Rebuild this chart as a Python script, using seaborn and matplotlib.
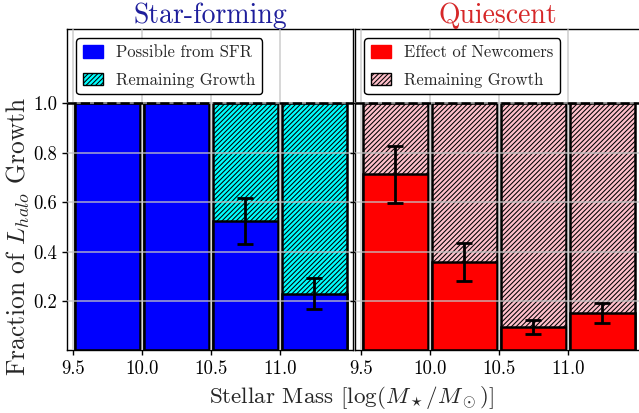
import numpy as np
import pandas as pd
import matplotlib
matplotlib.use("Agg")
import matplotlib.pyplot as plt
from matplotlib.patches import Patch
import seaborn as sns

# Stellar-mass bins (bin centres, dex)
mass_bins = [9.75, 10.25, 10.75, 11.25]
tick_positions = [9.5, 10.0, 10.5, 11.0]
tick_labels = ["9.5", "10.0", "10.5", "11.0"]
y_ticks = [0.2, 0.4, 0.6, 0.8, 1.0]

# Star-forming: fraction of L_halo growth possible from SFR
sf_frac = [1.0, 1.0, 0.525, 0.23]
sf_err = [0.0, 0.0, 0.093, 0.062]

# Quiescent: fraction of L_halo growth due to newcomers
q_frac = [0.713, 0.357, 0.095, 0.151]
q_err = [0.115, 0.078, 0.028, 0.042]

HATCH = "///////"

sns.set_theme(style="ticks")
plt.rcParams.update({
    "font.family": "serif",
    "font.serif": ["cmr10"],
    "mathtext.fontset": "cm",
    "axes.formatter.use_mathtext": True,
    "hatch.linewidth": 0.75,
    "hatch.color": "black",
    "axes.edgecolor": "black",
    "axes.linewidth": 1.0,
    "xtick.color": "black",
    "ytick.color": "black",
})

W, H = 639, 413
fig = plt.figure(figsize=(W / 100, H / 100), dpi=100)

def px_axes(x0, x1, y_top, y_bot):
    return fig.add_axes([x0 / W, 1 - y_bot / H, (x1 - x0) / W, (y_bot - y_top) / H])

ax_sf = px_axes(67, 353, 29.3, 350.4)
ax_q = px_axes(355, 641, 29.3, 350.4)

panels = [
    (ax_sf, sf_frac, sf_err, "#0000ff", "#00ffff", "Star-forming", "#1e1e9c",
     "Possible from SFR"),
    (ax_q, q_frac, q_err, "#ff0000", "#ffc0cb", "Quiescent", "#d62728",
     "Effect of Newcomers"),
]

for ax, frac, err, solid_c, hatch_c, title, title_c, solid_label in panels:
    df = pd.DataFrame({"mass": mass_bins, "frac": frac, "total": [1.0] * len(frac)})
    # Remaining growth: hatched bar up to 1
    sns.barplot(data=df, x="mass", y="total", native_scale=True, width=0.94,
                color=hatch_c, saturation=1, edgecolor="black", linewidth=1.8,
                hatch=HATCH, errorbar=None, ax=ax)
    # Achieved fraction drawn on top
    sns.barplot(data=df, x="mass", y="frac", native_scale=True, width=0.94,
                color=solid_c, saturation=1, edgecolor="black", linewidth=1.8,
                errorbar=None, ax=ax)

    e = np.array(err)
    m = e > 0
    ax.errorbar(np.array(mass_bins)[m], np.array(frac)[m], yerr=e[m], fmt="none",
                ecolor="black", elinewidth=2.0, capsize=5.5, capthick=2.0, zorder=6)

    ax.axhline(1.0, color="black", ls="--", lw=1.8, zorder=5)

    ax.set_xlim(9.457, 11.53)
    ax.set_ylim(0, 1.3)
    ax.set_xticks(tick_positions)
    ax.set_xticklabels(tick_labels)
    ax.set_yticks(y_ticks)
    ax.set_yticklabels([f"{v:.1f}" for v in y_ticks])
    ax.tick_params(labelsize=13.5, length=3.5, width=1.0)
    ax.set_xlabel("")
    ax.set_ylabel("")
    for s in ax.spines.values():
        s.set_visible(True)
        s.set_color("black")
        s.set_linewidth(1.0)

    ax.grid(True, color="#c4c4c4", lw=1.1, alpha=0.85)
    ax.set_axisbelow(False)

    ax.set_title(title, color=title_c, fontsize=20, pad=3)

    handles = [
        Patch(facecolor=solid_c, edgecolor=solid_c, label=solid_label),
        Patch(facecolor=hatch_c, edgecolor="black", hatch=HATCH, label="Remaining Growth"),
    ]
    leg = ax.legend(handles=handles, loc="upper left", fontsize=12,
                    handlelength=1.2, handleheight=0.8, handletextpad=0.8,
                    labelspacing=0.72, frameon=True, fancybox=True, framealpha=1,
                    edgecolor="black", borderaxespad=0.55)
    leg.get_frame().set_linewidth(1.0)
    leg.set_zorder(10)

ax_q.tick_params(labelleft=False)

fig.text(5 / W, 1 - 237 / H, r"Fraction of $L_{halo}$ Growth", rotation=90,
         ha="left", va="center", fontsize=18.3)
fig.text(352 / W, 1 - 403 / H, r"Stellar Mass [$\log(M_\star/M_\odot)$]",
         ha="center", va="baseline", fontsize=16.6)

fig.savefig("out.png", dpi=100)
